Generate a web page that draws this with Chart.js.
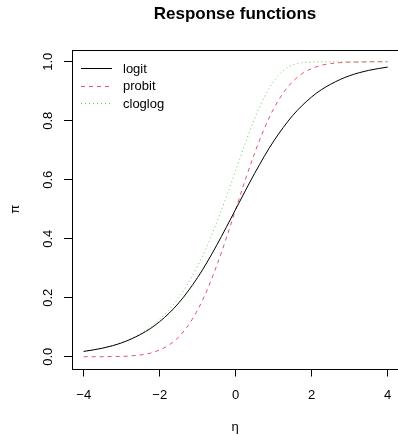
<!DOCTYPE html>
<html>
<head>
<meta charset="utf-8">
<script src="https://cdn.jsdelivr.net/npm/chart.js@4"></script>
<style>
  html, body { margin: 0; padding: 0; background: #fff; }
  #wrap { width: 398px; height: 435px; position: relative; }
</style>
</head>
<body>
<div id="wrap"><canvas id="chart" width="398" height="435"></canvas></div>
<script>
"use strict";

// Response functions pi = h(eta) for three binary-response links.
const ETA = [-4, -3.75, -3.5, -3.25, -3, -2.75, -2.5, -2.25, -2, -1.75, -1.5,
  -1.25, -1, -0.75, -0.5, -0.25, 0, 0.25, 0.5, 0.75, 1, 1.25, 1.5, 1.75, 2,
  2.25, 2.5, 2.75, 3, 3.25, 3.5, 3.75, 4];

const LOGIT = [0.018, 0.023, 0.029, 0.037, 0.047, 0.060, 0.076, 0.095, 0.119,
  0.148, 0.182, 0.223, 0.269, 0.321, 0.378, 0.438, 0.500, 0.562, 0.622, 0.679,
  0.731, 0.777, 0.818, 0.852, 0.881, 0.905, 0.924, 0.940, 0.953, 0.963, 0.971,
  0.977, 0.982];

const PROBIT = [0.000, 0.000, 0.000, 0.001, 0.001, 0.003, 0.006, 0.012, 0.023,
  0.040, 0.067, 0.106, 0.159, 0.227, 0.309, 0.401, 0.500, 0.599, 0.691, 0.773,
  0.841, 0.894, 0.933, 0.960, 0.977, 0.988, 0.994, 0.997, 0.999, 0.999, 1.000,
  1.000, 1.000];

const CLOGLOG = [0.018, 0.023, 0.030, 0.038, 0.049, 0.062, 0.079, 0.100, 0.127,
  0.160, 0.200, 0.249, 0.308, 0.376, 0.455, 0.541, 0.632, 0.723, 0.808, 0.880,
  0.934, 0.970, 0.989, 0.997, 0.999, 1.000, 1.000, 1.000, 1.000, 1.000, 1.000,
  1.000, 1.000];

const X_TICKS = [-4, -2, 0, 2, 4];
const Y_TICKS = [0, 0.2, 0.4, 0.6, 0.8, 1.0];

const SERIES = [
  { label: "logit", data: LOGIT, color: "#000000", dash: [] },
  { label: "probit", data: PROBIT, color: "#DF536B", dash: [4, 4] },
  { label: "cloglog", data: CLOGLOG, color: "#61D04F", dash: [1, 3] },
];

const FONT = "Liberation Sans, Arial, Helvetica, sans-serif";

// frame around the plotting region plus an unboxed legend in the top-left
const framePlugin = {
  id: "frame",
  afterDatasetsDraw(chart) {
    const { ctx, chartArea: a } = chart;
    ctx.save();
    ctx.strokeStyle = "#000";
    ctx.lineWidth = 1;
    ctx.strokeRect(Math.round(a.left) + 0.5, Math.round(a.top) + 0.5,
      Math.round(a.right - a.left), Math.round(a.bottom - a.top));

    ctx.font = "13px " + FONT;
    ctx.textBaseline = "middle";
    ctx.textAlign = "left";
    chart.data.datasets.forEach((ds, i) => {
      const y = a.top + 18 + i * 17.5;
      ctx.beginPath();
      ctx.strokeStyle = ds.borderColor;
      ctx.setLineDash(ds.borderDash);
      ctx.moveTo(81, Math.round(y) + 0.5);
      ctx.lineTo(112, Math.round(y) + 0.5);
      ctx.stroke();
      ctx.setLineDash([]);
      ctx.fillStyle = "#000";
      ctx.fillText(ds.label, 123, y + 1);
    });
    ctx.restore();
  },
};

// fixed axis sizes; drop the edge padding Chart.js reserves for tick labels
function fixSize(prop, size) {
  return (axis) => {
    axis[prop] = size;
    axis.paddingLeft = axis.paddingRight = 0;
    axis.paddingTop = axis.paddingBottom = 0;
  };
}

new Chart(document.getElementById("chart"), {
  type: "line",
  data: {
    labels: ETA,
    datasets: SERIES.map((s) => ({
      label: s.label,
      data: ETA.map((x, i) => ({ x, y: s.data[i] })),
      borderColor: s.color,
      borderDash: s.dash,
      borderWidth: 1,
      pointRadius: 0,
      cubicInterpolationMode: "monotone",
      fill: false,
    })),
  },
  options: {
    responsive: false,
    animation: false,
    layout: { padding: 0 },
    plugins: {
      legend: { display: false },
      tooltip: { enabled: false },
      title: {
        display: true,
        fullSize: false,
        text: "Response functions",
        color: "#000",
        font: { family: FONT, size: 17, weight: "bold", lineHeight: 1.2 },
        padding: { top: 4, bottom: 25.6 },
      },
    },
    scales: {
      x: {
        type: "linear",
        min: -4.308,
        max: 4.271,
        afterBuildTicks: (axis) => { axis.ticks = X_TICKS.map((v) => ({ value: v })); },
        afterFit: fixSize("height", 66.5),
        grid: { drawOnChartArea: false, drawTicks: true, tickLength: 8, color: "#000", lineWidth: 1 },
        border: { display: false },
        ticks: {
          color: "#000",
          padding: 11,
          font: { family: FONT, size: 13 },
          maxRotation: 0,
          callback: (v) => (v < 0 ? "\u2212" + Math.abs(v) : String(v)),
        },
        title: {
          display: true,
          text: "\u03b7",
          color: "#000",
          font: { family: FONT, size: 13 },
          padding: { top: 0, bottom: 0 },
        },
      },
      y: {
        min: -0.04,
        max: 1.04,
        afterBuildTicks: (axis) => { axis.ticks = Y_TICKS.map((v) => ({ value: v })); },
        afterFit: fixSize("width", 72),
        grid: { drawOnChartArea: false, drawTicks: true, tickLength: 8, color: "#000", lineWidth: 1 },
        border: { display: false },
        ticks: {
          color: "#000",
          padding: 7,
          minRotation: 90,
          maxRotation: 90,
          crossAlign: "center",
          font: { family: FONT, size: 13 },
          callback: (v) => v.toFixed(1),
        },
        title: {
          display: true,
          text: "\u03c0",
          color: "#000",
          font: { family: FONT, size: 13 },
          padding: { top: 8, bottom: 0 },
        },
      },
    },
  },
  plugins: [framePlugin],
});
</script>
</body>
</html>
